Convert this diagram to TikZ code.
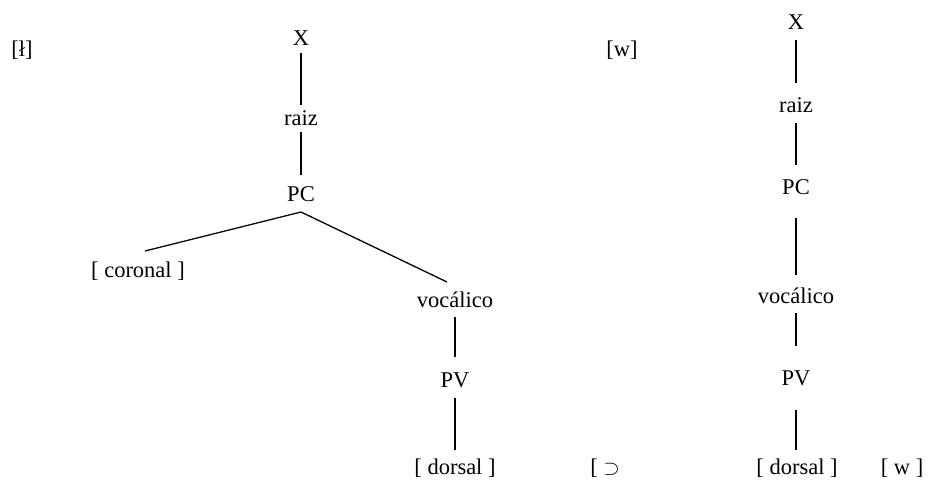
\documentclass[tikz,border=0pt]{standalone}
\usepackage{fontspec}
\setmainfont{Liberation Serif}
\begin{document}
\begin{tikzpicture}[x=1pt,y=-1pt,
  lbl/.style={inner sep=0pt, font=\fontsize{22.5}{26}\selectfont},
  thinedge/.style={line width=1.3pt},
  thickedge/.style={line width=1.8pt}]
\useasboundingbox (0,0) rectangle (929,484);
% left tree
\node[lbl] (l) at (22,50) {[ł]};
\node[lbl] (lX) at (301,38) {X};
\node[lbl] (lraiz) at (301,118) {raiz};
\node[lbl] (lPC) at (301,194) {PC};
\node[lbl] (cor) at (138,271) {[ coronal ]};
\node[lbl] (lvoc) at (455,300) {vocálico};
\node[lbl] (lPV) at (455,380) {PV};
\node[lbl] (ldor) at (455,468) {[ dorsal ]};
\node[lbl] (sup) at (605,468) {[ $\supset$};
\coordinate (apex) at ([yshift=-18]lPC.center);
\coordinate (corEnd) at ([xshift=7,yshift=20]cor.center);
\coordinate (vocEnd) at ([xshift=-8,yshift=18]lvoc.center);
\draw[thinedge] ([yshift=-15]lX.center) -- ([yshift=13]lraiz.center);
\draw[thinedge] ([yshift=-14]lraiz.center) -- ([yshift=19]lPC.center);
\draw[thinedge] (corEnd) -- (apex) -- (vocEnd);
\draw[thinedge] ([yshift=-17]lvoc.center) -- ([yshift=23]lPV.center);
\draw[thinedge] ([yshift=-18]lPV.center) -- ([yshift=18]ldor.center);
% right tree
\node[lbl] (r) at (622,50) {[w]};
\node[lbl] (rX) at (796,22) {X};
\node[lbl] (rraiz) at (796,105) {raiz};
\node[lbl] (rPC) at (796,187) {PC};
\node[lbl] (rvoc) at (796,296) {vocálico};
\node[lbl] (rPV) at (796,378) {PV};
\node[lbl] (rdor) at (797,468) {[ dorsal ]};
\node[lbl] (rw) at (902,468) {[ w ]};
\draw[thickedge] ([yshift=-18]rX.center) -- ([yshift=22]rraiz.center);
\draw[thickedge] ([yshift=-18]rraiz.center) -- ([yshift=22]rPC.center);
\draw[thickedge] ([yshift=-31]rPC.center) -- ([yshift=21]rvoc.center);
\draw[thickedge] ([yshift=-17]rvoc.center) -- ([yshift=32]rPV.center);
\draw[thickedge] ([yshift=-32]rPV.center) -- ([xshift=-1,yshift=18]rdor.center);
\end{tikzpicture}
\end{document}
